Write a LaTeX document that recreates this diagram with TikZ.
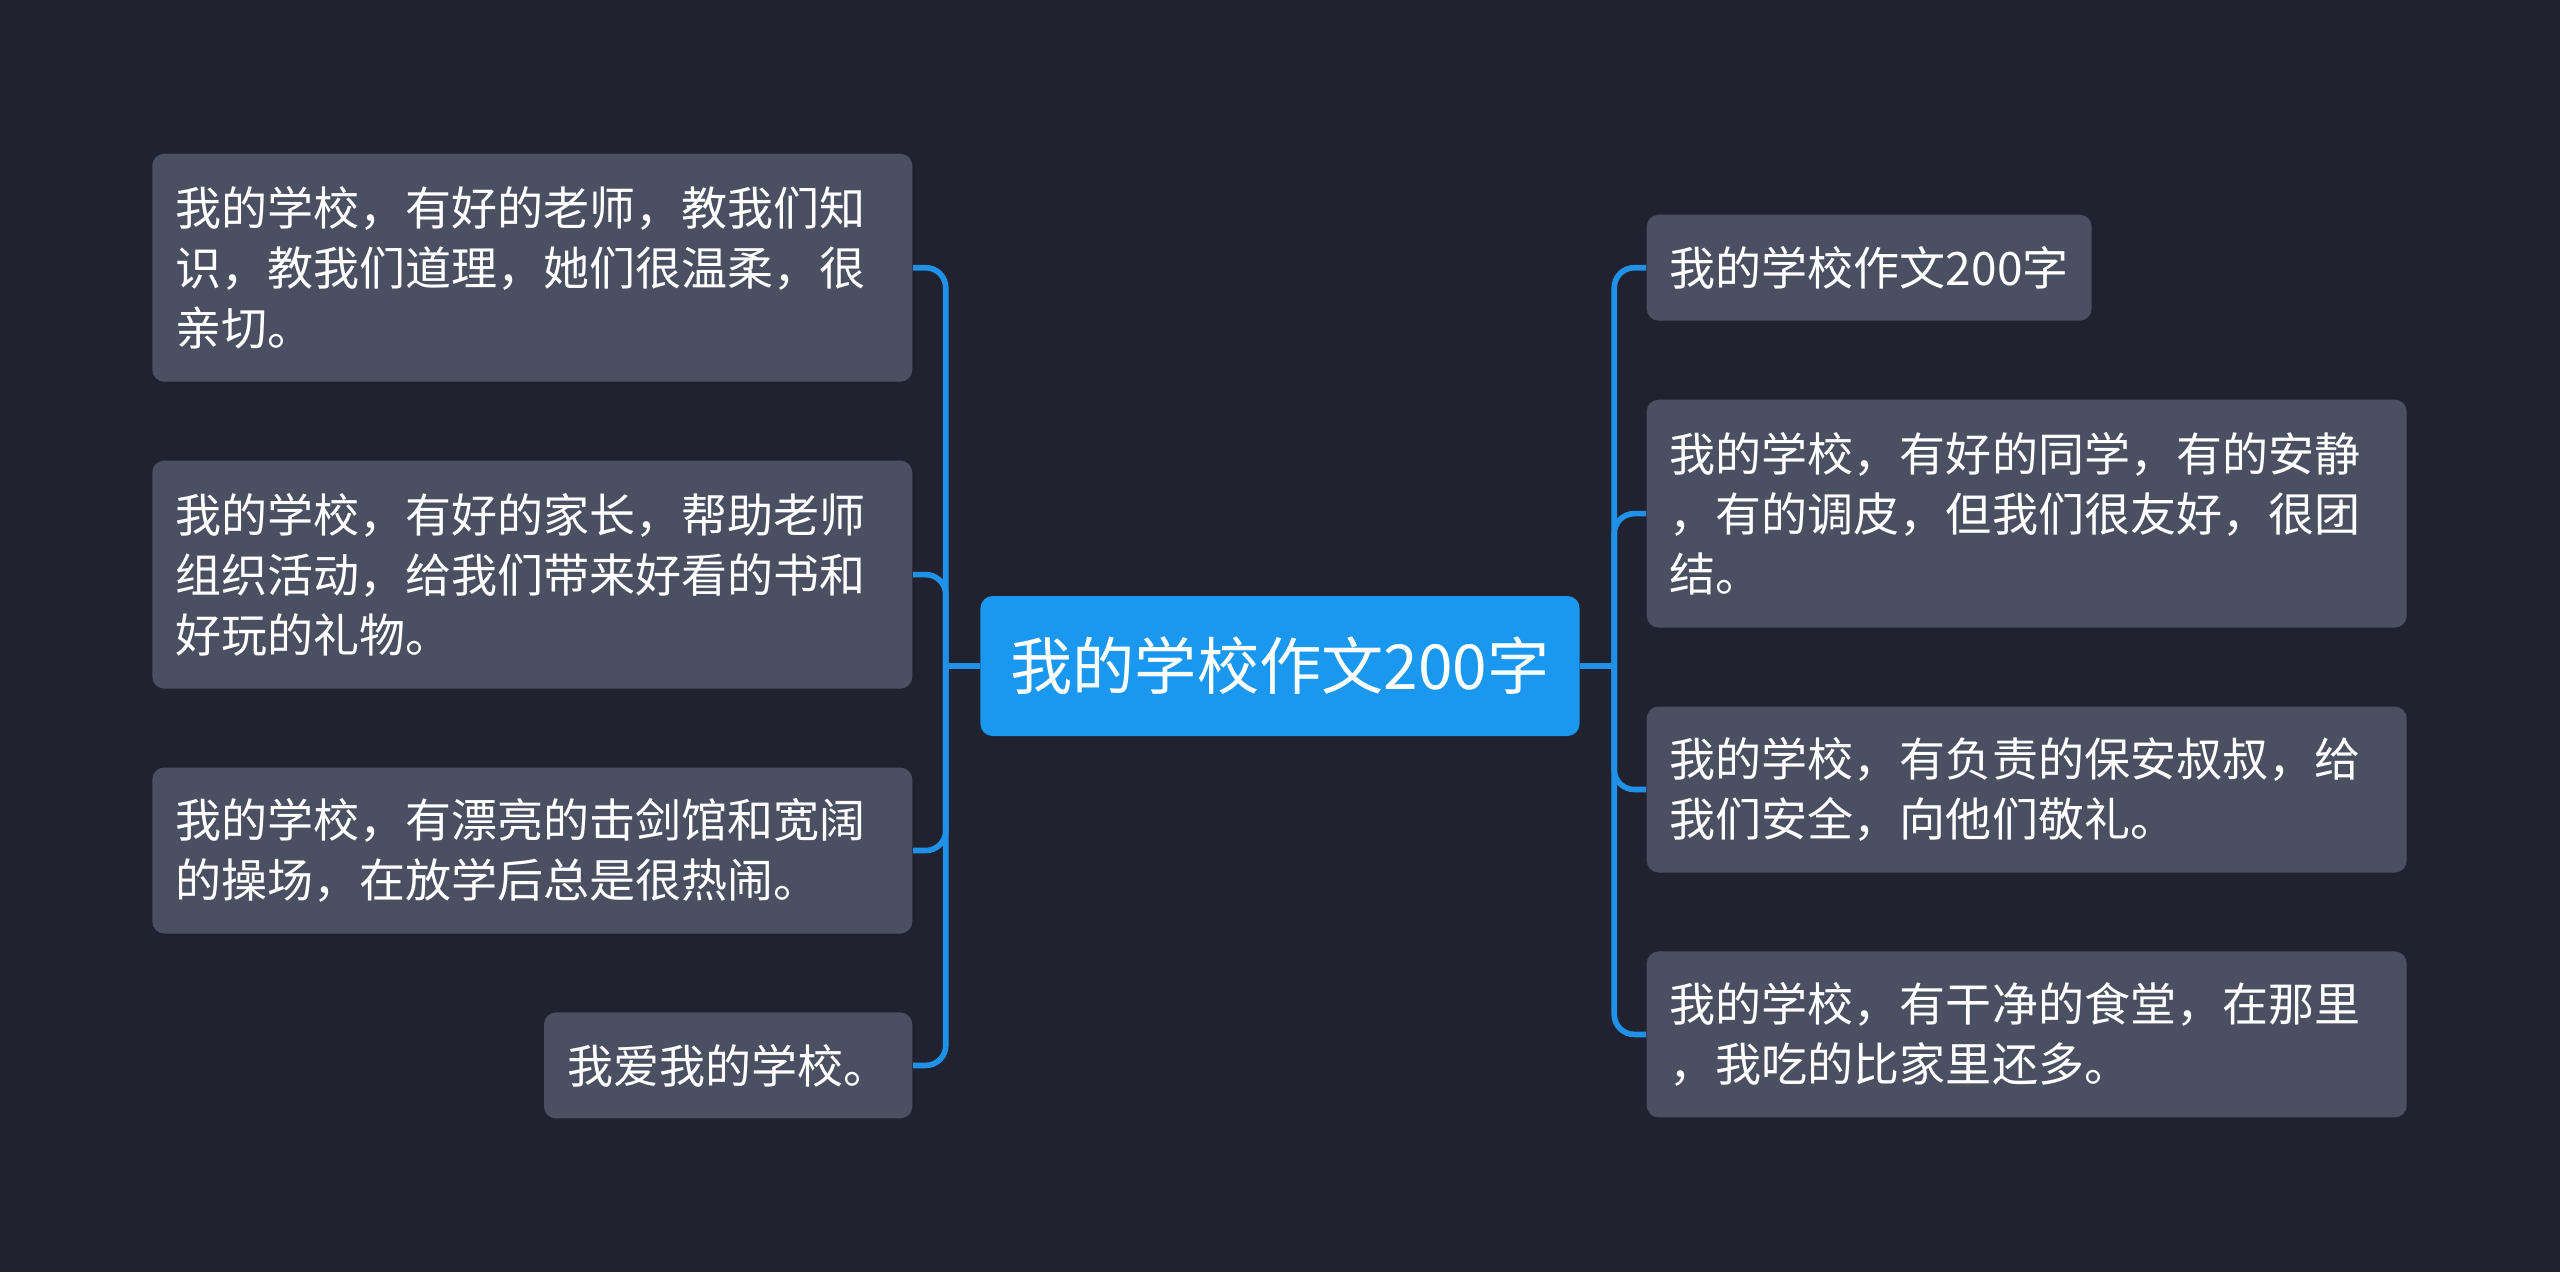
\documentclass[tikz,border=0pt]{standalone}
\usepackage{fontspec}
\setmainfont{Noto Sans CJK SC}
\usetikzlibrary{positioning}
\usepackage{xcolor}
\definecolor{mapbg}{HTML}{20232F}
\definecolor{leafgrey}{HTML}{4A5061}
\definecolor{rootblue}{HTML}{1A97EE}
\definecolor{linkblue}{HTML}{1F91E8}

\begin{document}
\begin{tikzpicture}[
      node distance=0.775cm,
      every node/.style={text=white},
      leaf/.style={
        rounded corners=0.12cm,
        fill=leafgrey,
        inner xsep=0.23cm,
        inner ysep=0pt,
        align=left,
        font=\fontsize{13.1pt}{17.1pt}\selectfont
      },
      wide/.style={leaf, text width=7.14cm},
      oneline/.style={minimum height=1.06cm},
      twolines/.style={minimum height=1.66cm},
      threelines/.style={minimum height=2.28cm},
      topic/.style={
        rounded corners=0.12cm,
        fill=rootblue,
        inner xsep=0.30cm,
        minimum height=1.40cm,
        font=\fontsize{17.7pt}{20pt}\selectfont
      },
      link/.style={draw=linkblue, line width=1.6pt, rounded corners=0.2cm}
    ]
      \fill[mapbg] (0,0) rectangle (25.6,-12.72);

      \node[topic] (root) at (12.80,-6.66) {我的学校作文200字};

      % left side
      \node[wide, threelines, anchor=north east] (l1) at (9.13,-1.53)
        {我的学校，有好的老师，教我们知\\识，教我们道理，她们很温柔，很\\亲切。};
      \node[wide, threelines, below=of l1.south east, anchor=north east] (l2)
        {我的学校，有好的家长，帮助老师\\组织活动，给我们带来好看的书和\\好玩的礼物。};
      \node[wide, twolines, below=of l2.south east, anchor=north east] (l3)
        {我的学校，有漂亮的击剑馆和宽阔\\的操场，在放学后总是很热闹。};
      \node[leaf, oneline, below=of l3.south east, anchor=north east] (l4)
        {我爱我的学校。};

      % right side
      \node[leaf, oneline, anchor=north west] (r1) at (16.46,-2.14)
        {我的学校作文200字};
      \node[wide, threelines, below=of r1.south west, anchor=north west] (r2)
        {我的学校，有好的同学，有的安静\\，有的调皮，但我们很友好，很团\\结。};
      \node[wide, twolines, below=of r2.south west, anchor=north west] (r3)
        {我的学校，有负责的保安叔叔，给\\我们安全，向他们敬礼。};
      \node[wide, twolines, below=of r3.south west, anchor=north west] (r4)
        {我的学校，有干净的食堂，在那里\\，我吃的比家里还多。};

      \coordinate (lhub) at ([xshift=-0.34cm]root.west);
      \coordinate (rhub) at ([xshift=0.34cm]root.east);
      \draw[link] (root.west) -- (lhub);
      \draw[link] (root.east) -- (rhub);
      \foreach \n in {l1,l2,l3,l4}
        \draw[link] (lhub) |- (\n.east);
      \foreach \n in {r1,r2,r3,r4}
        \draw[link] (rhub) |- (\n.west);
    \end{tikzpicture}
\end{document}
